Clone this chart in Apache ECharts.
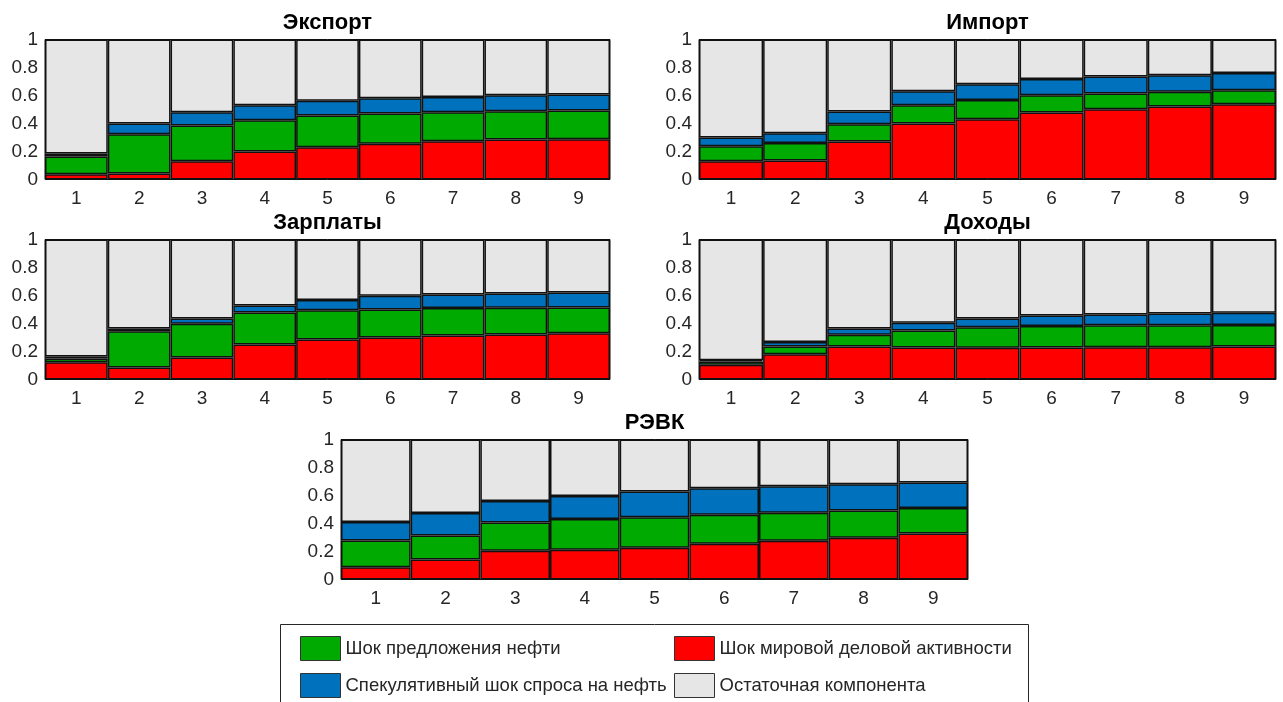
<!DOCTYPE html>
<html>
<head>
<meta charset="utf-8">
<script src="https://cdn.jsdelivr.net/npm/echarts@6/dist/echarts.min.js"></script>
<style>
  html, body { margin: 0; padding: 0; background: #fff; }
  #chart { width: 1283px; height: 702px; }
</style>
</head>
<body>
<div id="chart"></div>
<script>
// Horizons (quarters) on the x axis
const horizons = ['1', '2', '3', '4', '5', '6', '7', '8', '9'];
const yTicks = [0, 0.2, 0.4, 0.6, 0.8, 1];

// Shares of forecast-error variance explained by each shock
const exportRed   = [0.038, 0.043, 0.131, 0.200, 0.231, 0.255, 0.274, 0.286, 0.288];
const exportGreen = [0.126, 0.281, 0.255, 0.224, 0.226, 0.216, 0.207, 0.202, 0.205];
const exportBlue  = [0.022, 0.076, 0.095, 0.107, 0.105, 0.110, 0.109, 0.114, 0.114];

const importRed   = [0.131, 0.136, 0.271, 0.400, 0.431, 0.479, 0.502, 0.521, 0.538];
const importGreen = [0.107, 0.124, 0.124, 0.131, 0.136, 0.123, 0.112, 0.105, 0.100];
const importBlue  = [0.062, 0.071, 0.091, 0.100, 0.114, 0.115, 0.122, 0.119, 0.122];

const wagesRed    = [0.124, 0.086, 0.157, 0.250, 0.286, 0.300, 0.314, 0.321, 0.331];
const wagesGreen  = [0.026, 0.259, 0.241, 0.229, 0.209, 0.200, 0.196, 0.191, 0.183];
const wagesBlue   = [0.015, 0.019, 0.038, 0.050, 0.072, 0.098, 0.097, 0.102, 0.107];

const incomeRed   = [0.105, 0.181, 0.236, 0.229, 0.226, 0.229, 0.231, 0.231, 0.236];
const incomeGreen = [0.024, 0.055, 0.083, 0.121, 0.148, 0.154, 0.157, 0.157, 0.154];
const incomeBlue  = [0.009, 0.031, 0.045, 0.055, 0.062, 0.074, 0.076, 0.083, 0.086];

const reerRed     = [0.088, 0.143, 0.205, 0.212, 0.227, 0.255, 0.277, 0.298, 0.329];
const reerGreen   = [0.191, 0.172, 0.203, 0.220, 0.217, 0.208, 0.200, 0.194, 0.182];
const reerBlue    = [0.131, 0.160, 0.153, 0.165, 0.184, 0.189, 0.189, 0.188, 0.181];

const panelTitles = ['Экспорт', 'Импорт', 'Зарплаты', 'Доходы', 'РЭВК'];
const seriesNames = [
  'Шок мировой деловой активности',
  'Шок предложения нефти',
  'Спекулятивный шок спроса на нефть',
  'Остаточная компонента'
];

const panels = [
  [exportRed, exportGreen, exportBlue],
  [importRed, importGreen, importBlue],
  [wagesRed, wagesGreen, wagesBlue],
  [incomeRed, incomeGreen, incomeBlue],
  [reerRed, reerGreen, reerBlue]
];

const colors = ['#ff0000', '#00aa00', '#0072bd', '#e6e6e6'];
const FONT = '"Liberation Sans", Arial, sans-serif';
const INK = '#262626';

// Plot rectangles for the five panels
const boxes = [
  { left: 45,  top: 39.5,  width: 565, height: 140 },
  { left: 699, top: 39.5,  width: 577, height: 140 },
  { left: 45,  top: 239.5, width: 565, height: 140 },
  { left: 699, top: 239.5, width: 577, height: 140 },
  { left: 341, top: 439.5, width: 627, height: 140 }
];

const grids = [], xAxes = [], yAxes = [], series = [], graphics = [];

boxes.forEach((b, i) => {
  grids.push({ left: b.left, top: b.top, width: b.width, height: b.height,
               show: true, borderColor: '#111', borderWidth: 1 });
  xAxes.push({
    type: 'category', gridIndex: i, data: horizons,
    axisLine: { show: false }, axisTick: { show: false },
    axisLabel: { color: INK, fontSize: 19, fontFamily: FONT, margin: 10 }
  });
  yAxes.push({
    type: 'value', gridIndex: i, min: yTicks[0], max: yTicks[yTicks.length - 1], interval: 0.2,
    axisLine: { show: false }, axisTick: { show: false }, splitLine: { show: false },
    axisLabel: { color: INK, fontSize: 19, fontFamily: FONT, margin: 7,
                 formatter: v => String(+v.toFixed(1)) }
  });

  const parts = panels[i];
  const residual = horizons.map((_, k) => +(1 - parts[0][k] - parts[1][k] - parts[2][k]).toFixed(3));
  [parts[0], parts[1], parts[2], residual].forEach((vals, s) => {
    series.push({
      type: 'bar', name: seriesNames[s], xAxisIndex: i, yAxisIndex: i,
      stack: 'p' + i, data: vals, barCategoryGap: '0%', barGap: '0%',
      silent: true, animation: false,
      itemStyle: { color: colors[s], borderColor: '#111', borderWidth: 1.5 }
    });
  });

  graphics.push({
    type: 'text', x: b.left + b.width / 2, y: b.top - 17,
    style: { text: panelTitles[i], font: 'bold 22px ' + FONT, fill: '#000',
             textAlign: 'center', textVerticalAlign: 'middle' }
  });
});

// Legend frame
graphics.unshift({
  type: 'rect', shape: { x: 280.5, y: 624.5, width: 748, height: 100 },
  style: { fill: '#fff', stroke: INK, lineWidth: 1 }, z: -1
});

const legendSpots = [
  { name: seriesNames[1], left: 300, top: 636 },
  { name: seriesNames[0], left: 674, top: 636 },
  { name: seriesNames[2], left: 300, top: 673 },
  { name: seriesNames[3], left: 674, top: 673 }
];
const legends = legendSpots.map(l => ({
  left: l.left, top: l.top, orient: 'horizontal', padding: 0,
  itemWidth: 40, itemHeight: 24, selectedMode: false, icon: 'rect',
  data: [l.name],
  itemStyle: { borderColor: '#333', borderWidth: 1 },
  textStyle: { color: INK, fontSize: 18.5, fontFamily: FONT }
}));

const chart = echarts.init(document.getElementById('chart'), null, { renderer: 'canvas' });
chart.setOption({
  animation: false,
  backgroundColor: '#fff',
  grid: grids,
  xAxis: xAxes,
  yAxis: yAxes,
  legend: legends,
  series: series,
  graphic: graphics
});
</script>
</body>
</html>
